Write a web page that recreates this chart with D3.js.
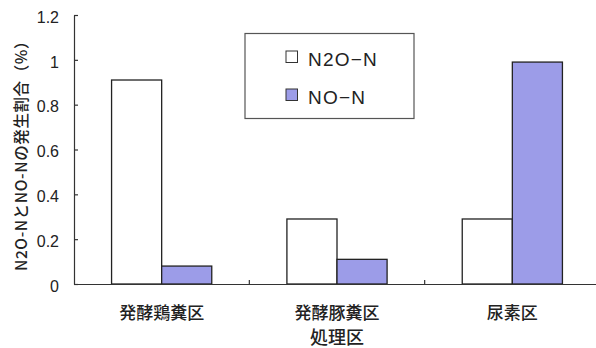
<!DOCTYPE html>
<html>
<head>
<meta charset="utf-8">
<script src="https://cdn.jsdelivr.net/npm/d3@7"></script>
<style>
  html, body { margin: 0; padding: 0; background: #fff; }
  svg { display: block; }
  .jp { font-family: "Noto Sans CJK JP", "Noto Sans", sans-serif; fill: #222; font-weight: 500; }
  .num { font-family: "Liberation Sans", Arial, sans-serif; fill: #222; }
</style>
</head>
<body>
<svg id="chart" width="596" height="348"></svg>
<script>
// Treatments (x categories)
const categories = ["発酵鶏糞区", "発酵豚糞区", "尿素区"];
// Emission ratio (%) for each gas
const seriesNames = ["N2O-N", "NO-N"];
const n2oValues = [0.91, 0.29, 0.29];
const noValues = [0.08, 0.11, 0.99];
const yTicks = [0, 0.2, 0.4, 0.6, 0.8, 1, 1.2];
const xTitle = "処理区";
const yTitle = "N2O-NとNO-Nの発生割合（%）";

const seriesValues = [n2oValues, noValues];
const fills = ["#ffffff", "#9c9ce8"];

const svg = d3.select("#chart");

const plotLeft = 74, plotRight = 600, plotTop = 15, plotBottom = 284;

const x = d3.scaleBand().domain(categories).range([plotLeft, plotRight]).paddingInner(0).paddingOuter(0);
const xInner = d3.scaleBand().domain(seriesNames).range([0, x.bandwidth()])
  .paddingInner(0).paddingOuter(0.75);
const y = d3.scaleLinear().domain([0, 1.2]).range([plotBottom, plotTop]);

// Bars
categories.forEach((cat, ci) => {
  seriesNames.forEach((s, si) => {
    const v = seriesValues[si][ci];
    svg.append("rect")
      .attr("x", x(cat) + xInner(s))
      .attr("y", y(v))
      .attr("width", xInner.bandwidth())
      .attr("height", y(0) - y(v))
      .attr("fill", fills[si])
      .attr("stroke", "#222")
      .attr("stroke-width", 1.3);
  });
});

// Y axis: inward ticks
const yAxis = svg.append("g")
  .attr("transform", `translate(${plotLeft},0)`)
  .call(d3.axisLeft(y).tickValues(yTicks).tickFormat(d3.format("~g"))
    .tickSizeInner(-4).tickSizeOuter(0).tickPadding(15));
yAxis.select(".domain").attr("stroke", "#333").attr("stroke-width", 1.2);
yAxis.selectAll(".tick line").attr("stroke", "#333").attr("stroke-width", 1.2);
yAxis.selectAll(".tick text").attr("class", "num").attr("font-size", 16).attr("dy", "0.45em");

// X axis: baseline with ticks between categories
const xAxis = svg.append("g")
  .attr("transform", `translate(0,${plotBottom})`)
  .call(d3.axisBottom(x).tickSize(0).tickPadding(20));
xAxis.select(".domain").attr("stroke", "#333").attr("stroke-width", 1.2);
xAxis.selectAll(".tick text").attr("class", "jp").attr("font-size", 17).attr("dy", "0.88em");
xAxis.selectAll(".sep").data(categories.slice(1)).enter().append("line")
  .attr("class", "sep")
  .attr("x1", d => x(d)).attr("x2", d => x(d))
  .attr("y1", 0).attr("y2", -4)
  .attr("stroke", "#333").attr("stroke-width", 1.2);

// Axis titles
svg.append("text").attr("class", "jp")
  .attr("x", (x(categories[1]) + x.bandwidth() / 2)).attr("y", 344)
  .attr("text-anchor", "middle").attr("font-size", 18)
  .text(xTitle);

svg.append("text").attr("class", "jp")
  .attr("transform", "translate(26.5,152) rotate(-90)")
  .attr("text-anchor", "middle").attr("font-size", 15.5)
  .attr("letter-spacing", 0.6)
  .text(yTitle);

// Legend
const lg = svg.append("g");
lg.append("rect").attr("x", 245).attr("y", 33.5).attr("width", 169).attr("height", 85)
  .attr("fill", "#fff").attr("stroke", "#555").attr("stroke-width", 1.2);
seriesNames.forEach((s, i) => {
  const yy = 63 + i * 38;
  lg.append("rect").attr("x", 286).attr("y", yy - 12).attr("width", 11.5).attr("height", 11.5)
    .attr("fill", fills[i]).attr("stroke", "#333").attr("stroke-width", 1);
  lg.append("text").attr("class", "num").attr("x", 308).attr("y", yy + 2.5)
    .attr("font-size", 19).attr("letter-spacing", 1.2)
    .text(s.replace("-", "−"));
});
</script>
</body>
</html>
